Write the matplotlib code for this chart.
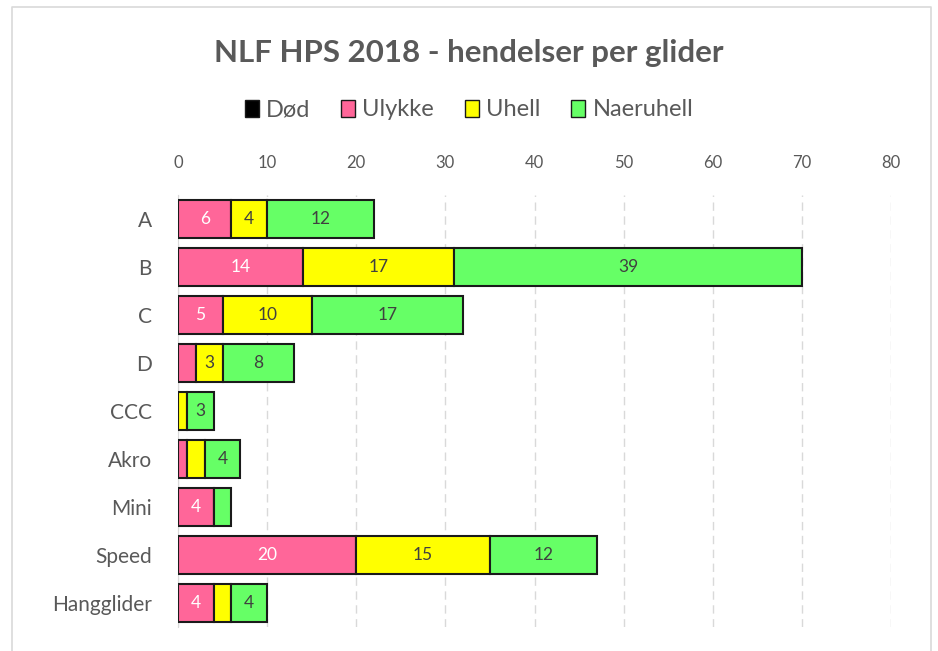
import matplotlib
matplotlib.use("Agg")
import matplotlib.pyplot as plt
from matplotlib.patches import Patch
from matplotlib.lines import Line2D
import numpy as np

categories = ["A", "B", "C", "D", "CCC", "Akro", "Mini", "Speed", "Hangglider"]
dod = [0, 0, 0, 0, 0, 0, 0, 0, 0]
ulykke = [6, 14, 5, 2, 0, 1, 4, 20, 4]
uhell = [4, 17, 10, 3, 1, 2, 0, 15, 2]
naeruhell = [12, 39, 17, 8, 3, 4, 2, 12, 4]
series_names = ["Død", "Ulykke", "Uhell", "Naeruhell"]
x_ticks = [0, 10, 20, 30, 40, 50, 60, 70, 80]

colors = ["#000000", "#FF6699", "#FFFF00", "#66FF66"]
label_colors = ["white", "white", "#404040", "#404040"]
fontfam = ["Lato", "DejaVu Sans"]
gray = "#595959"

W, H = 938, 651
fig = plt.figure(figsize=(W/100, H/100), dpi=100)
# chart-area border (left, top, right)
bx0, bx1, by = 12/W, 931/W, 1-7/H
fig.add_artist(Line2D([bx0, bx0, bx1, bx1], [0, by, by, 0], transform=fig.transFigure,
                      color="#D9D9D9", linewidth=1.2))

ax = fig.add_axes([178/W, 1-627/H, (891-178)/W, (627-195)/H])

y = np.arange(len(categories))
left = np.zeros(len(categories))
for name, vals, c, lc in zip(series_names, [dod, ulykke, uhell, naeruhell], colors, label_colors):
    vals = np.array(vals, dtype=float)
    bars = ax.barh(y, vals, left=left, height=0.79, color=c, edgecolor="#1a1a1a",
                   linewidth=1.5, label=name, zorder=3)
    for b, v in zip(bars, vals):
        if v >= 3:
            ax.text(b.get_x() + b.get_width()/2, b.get_y() + b.get_height()/2, f"{int(v)}",
                    ha="center", va="center", color=lc, fontsize=12.5, family=fontfam, zorder=4)
    left += vals

ax.set_xlim(0, 80)
ax.set_ylim(len(categories)-0.5, -0.5)
ax.set_yticks(y)
ax.set_yticklabels(categories, fontsize=15, color=gray, family=fontfam)
ax.set_xticks(x_ticks)
ax.set_xticklabels([str(t) for t in x_ticks], fontsize=12, color=gray, family=fontfam)
ax.xaxis.tick_top()
ax.tick_params(axis="y", length=0, pad=19)
ax.tick_params(axis="x", length=0, pad=17)
ax.grid(axis="x", color="#D9D9D9", linestyle=(0, (6, 4)), linewidth=1, zorder=0)
for s in ["top", "right", "bottom"]:
    ax.spines[s].set_visible(False)
ax.spines["left"].set_color("#D9D9D9")
ax.spines["left"].set_zorder(1)

fig.text(0.5, 1-62/H, "NLF HPS 2018 - hendelser per glider", ha="center", va="baseline",
         fontsize=22.5, fontweight="bold", color=gray, family=fontfam)

handles = [Patch(facecolor=c, edgecolor="#1a1a1a", linewidth=1) for c in colors]
leg = fig.legend(handles, series_names, loc="center", bbox_to_anchor=(0.5, 1-110/H),
                 ncol=4, frameon=False, handlelength=0.6, handleheight=0.75,
                 handletextpad=0.3, columnspacing=1.3, prop={"family": fontfam, "size": 17})
for t in leg.get_texts():
    t.set_color(gray)

fig.savefig("out.png", dpi=100)
